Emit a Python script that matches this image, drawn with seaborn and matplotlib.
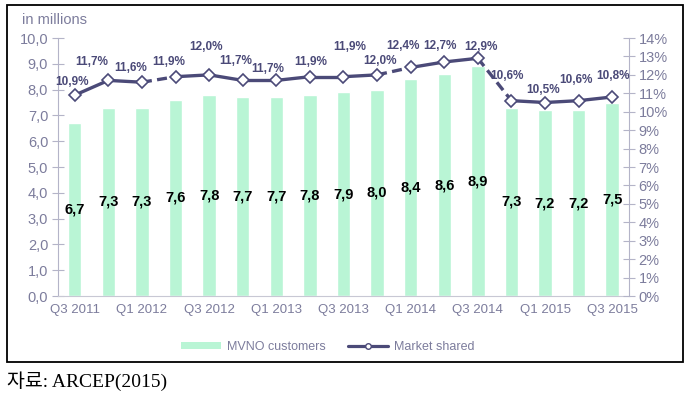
import matplotlib.pyplot as plt
import seaborn as sns
import pandas as pd
from matplotlib.patches import Patch, Rectangle
from matplotlib.lines import Line2D

quarters = ['Q3 2011', 'Q4 2011', 'Q1 2012', 'Q2 2012', 'Q3 2012', 'Q4 2012',
            'Q1 2013', 'Q2 2013', 'Q3 2013', 'Q4 2013', 'Q1 2014', 'Q2 2014',
            'Q3 2014', 'Q4 2014', 'Q1 2015', 'Q2 2015', 'Q3 2015']
customers = [6.7, 7.3, 7.3, 7.6, 7.8, 7.7, 7.7, 7.8, 7.9, 8.0, 8.4, 8.6, 8.9,
             7.3, 7.2, 7.2, 7.5]
share = [10.9, 11.7, 11.6, 11.9, 12.0, 11.7, 11.7, 11.9, 11.9, 12.0, 12.4,
         12.7, 12.9, 10.6, 10.5, 10.6, 10.8]

# segments drawn dashed (index of the segment start)
dashed = [2, 9, 12]
# label offsets in pixels (dx, dy) above each marker
lbl_off = [(-3, 13), (-17, 18), (-11, 14), (-7, 15), (-3, 28), (-7, 19),
           (-9, 11), (1, 15), (6, 30), (3, 14), (-8, 21), (-4, 16), (3, 11),
           (-4, 25), (-2, 13), (-3, 21), (1, 21)]

df = pd.DataFrame({'quarter': quarters, 'customers': customers, 'share': share})

bar_col = '#b9f5d5'
line_col = '#4b4a78'
axis_txt = '#7c7c9c'
spine_col = '#b4b4c8'

sns.set_style('white')
plt.rcParams['font.family'] = ['Liberation Sans', 'DejaVu Sans']

fig = plt.figure(figsize=(6.9, 4.03), dpi=100)
ax = fig.add_axes([0.084, 0.2655, 0.8276, 0.6402])

sns.barplot(data=df, x='quarter', y='customers', color=bar_col, width=0.4,
            saturation=1, ax=ax)
ax.set_xlim(-0.5, 16.5)
ax.set_ylim(0, 10)
ax.set_xlabel('')
ax.set_ylabel('')

ax.set_yticks(range(11))
ax.set_yticklabels([f'{v:.1f}'.replace('.', ',') for v in range(11)])
ax.tick_params(axis='y', direction='inout', length=8, width=0.8,
               color=spine_col, labelcolor=axis_txt, labelsize=10.5, pad=3)

ax.set_xticks(range(0, 17, 2))
ax.set_xticklabels(quarters[::2])
ax.set_xticks([i - 0.5 for i in range(18)], minor=True)
ax.tick_params(axis='x', which='major', length=0, labelcolor=axis_txt,
               labelsize=9.5, pad=6)
ax.tick_params(axis='x', which='minor', direction='out', length=4, width=0.8,
               color=spine_col)

for s in ['top', 'right']:
    ax.spines[s].set_visible(False)
ax.spines['left'].set_color(spine_col)
ax.spines['bottom'].set_color('#c8c8d4')

for i, v in enumerate(customers):
    ax.text(i, v / 2, f'{v:.1f}'.replace('.', ','), ha='center', va='center',
            fontsize=10.5, fontweight='bold', color='black')

ax2 = ax.twinx()
ax2.set_ylim(0, 14)
ax2.set_yticks(range(15))
ax2.set_yticklabels([f'{v}%' for v in range(15)])
ax2.tick_params(axis='y', direction='inout', length=8, width=0.8,
                color=spine_col, labelcolor=axis_txt, labelsize=10.5, pad=3)
for s in ['top', 'left', 'bottom']:
    ax2.spines[s].set_visible(False)
ax2.spines['right'].set_color(spine_col)

x = list(range(len(share)))
for i in range(len(share) - 1):
    ls = (0, (3, 1.6)) if i in dashed else '-'
    ax2.plot(x[i:i + 2], share[i:i + 2], color=line_col, lw=2.4, linestyle=ls,
             solid_capstyle='butt', zorder=3)
ax2.plot(x, share, linestyle='none', marker='D', markersize=6.5,
         markerfacecolor='white', markeredgecolor=line_col,
         markeredgewidth=1.2, zorder=4)

for i, v in enumerate(share):
    ax2.annotate(f'{v:.1f}%'.replace('.', ','), (i, v), xytext=lbl_off[i],
                 textcoords='offset pixels', ha='center', va='center',
                 fontsize=8.5, fontweight='bold', color=line_col)

fig.text(22 / 690, 1 - 20 / 403, 'in millions', fontsize=10.5,
         color=axis_txt, ha='left', va='center')

handles = [Patch(facecolor=bar_col, edgecolor='none'),
           Line2D([], [], color=line_col, lw=2.3, marker='o', markersize=4,
                  markerfacecolor='white', markeredgecolor=line_col)]
fig.legend(handles, ['MVNO customers', 'Market shared'], ncol=2,
           loc='center', bbox_to_anchor=(0.475, 1 - 347 / 403), frameon=False,
           fontsize=9, labelcolor=axis_txt, handlelength=3.2,
           handleheight=0.45, handletextpad=0.5, columnspacing=1.8)

fig.add_artist(Rectangle((7 / 690, 1 - 362 / 403), 676 / 690, 357 / 403,
                         transform=fig.transFigure, fill=False,
                         edgecolor='black', lw=1.3))

fig.text(7 / 690, 1 - 381 / 403, '자료: ARCEP(2015)', fontsize=14,
         family=['Liberation Serif', 'Noto Sans CJK KR'], ha='left',
         va='center', color='black')

fig.savefig('out.png', dpi=100)
